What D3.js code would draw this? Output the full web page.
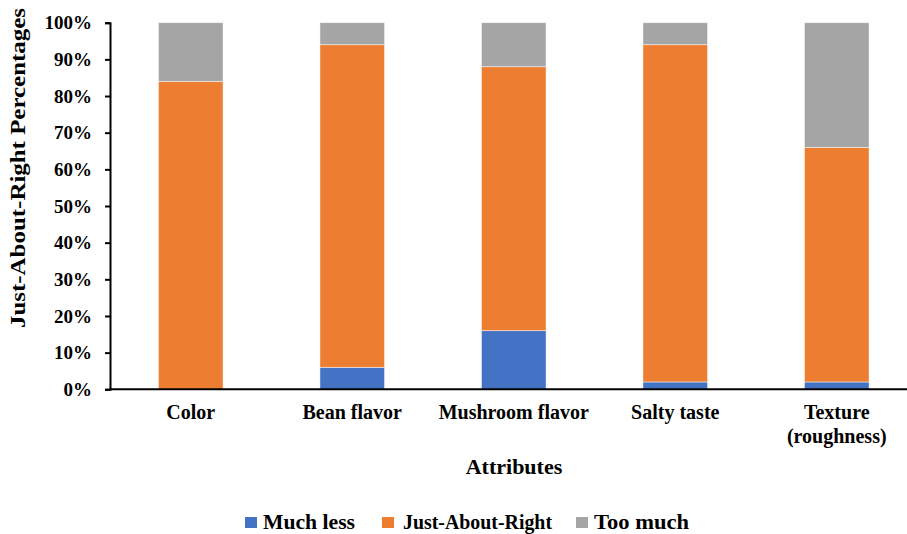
<!DOCTYPE html>
<html><head><meta charset="utf-8">
<script src="https://cdn.jsdelivr.net/npm/d3@7"></script>
<style>body{margin:0;background:#fff}svg{display:block}text{font-family:"Liberation Serif","Times New Roman",serif;font-weight:bold;fill:#000}</style>
</head><body><svg id="c" width="907" height="534"></svg>
<script>
const categories = ["Color", "Bean flavor", "Mushroom flavor", "Salty taste", "Texture\n(roughness)"];
const seriesNames = ["Much less", "Just-About-Right", "Too much"];
const muchLess = [0, 6, 16, 2, 2];
const justAboutRight = [84, 88, 72, 92, 64];
const tooMuch = [16, 6, 12, 6, 34];
const colors = ["#4472C4", "#ED7D31", "#A5A5A5"];
const yTicks = [0, 10, 20, 30, 40, 50, 60, 70, 80, 90, 100];

const svg = d3.select("#c");
const x = d3.scaleBand().domain(categories).range([110, 917.5]).paddingInner(0.6).paddingOuter(0.3);
const y = d3.scaleLinear().domain([0, 100]).range([389.3, 22.7]);

const rows = categories.map((c, i) => ({cat: c, "Much less": muchLess[i], "Just-About-Right": justAboutRight[i], "Too much": tooMuch[i]}));
const stacked = d3.stack().keys(seriesNames)(rows);

svg.append("g").selectAll("g").data(stacked).join("g")
  .attr("fill", (d, i) => colors[i])
  .selectAll("rect").data(d => d).join("rect")
  .attr("x", d => x(d.data.cat))
  .attr("width", x.bandwidth())
  .attr("y", d => y(d[1]))
  .attr("height", d => y(d[0]) - y(d[1]))
  .attr("stroke", "#fff").attr("stroke-opacity", 0.6).attr("stroke-width", 0.8);

// y axis
const yAxis = svg.append("g").attr("transform", "translate(110,0)")
  .call(d3.axisLeft(y).tickValues(yTicks).tickFormat(d => d + "%").tickSizeOuter(0).tickSize(5).tickPadding(13));
yAxis.select(".domain").attr("stroke", "#000").attr("stroke-width", 2);
yAxis.selectAll(".tick line").attr("stroke", "#000").attr("stroke-width", 2);
yAxis.selectAll(".tick text").style("font-size", "19px").attr("font-family", null);

// x axis
const xAxis = svg.append("g").attr("transform", "translate(0,389.3)")
  .call(d3.axisBottom(x).tickSize(0).tickSizeOuter(0).tickFormat(""));
xAxis.select(".domain").attr("stroke", "#000").attr("stroke-width", 2).attr("d", "M109,0H907");
xAxis.selectAll(".tick").each(function(d) {
  const t = d3.select(this).append("text").attr("text-anchor", "middle").style("font-size", "20px");
  d.split("\n").forEach((line, i) => {
    t.append("tspan").attr("x", 0).attr("y", 30 + i * 24).text(line);
  });
});

// axis titles
svg.append("text").attr("transform", "translate(25,168) rotate(-90)").attr("text-anchor", "middle")
  .attr("textLength", 320).attr("lengthAdjust", "spacingAndGlyphs")
  .style("font-size", "20px").text("Just-About-Right Percentages");
svg.append("text").attr("x", 514).attr("y", 474).attr("text-anchor", "middle")
  .style("font-size", "22px").text("Attributes");

// legend
const legendX = [245, 382, 576];
const legendW = [92, 149, 95];
const lg = svg.append("g");
seriesNames.forEach((s, i) => {
  lg.append("rect").attr("x", legendX[i]).attr("y", 517).attr("width", 12).attr("height", 11).attr("fill", colors[i]);
  lg.append("text").attr("x", legendX[i] + 18 + (i === 1 ? 3 : 0)).attr("y", 528.5)
    .attr("textLength", legendW[i]).attr("lengthAdjust", "spacingAndGlyphs")
    .style("font-size", "21px").text(s);
});
</script></body></html>
